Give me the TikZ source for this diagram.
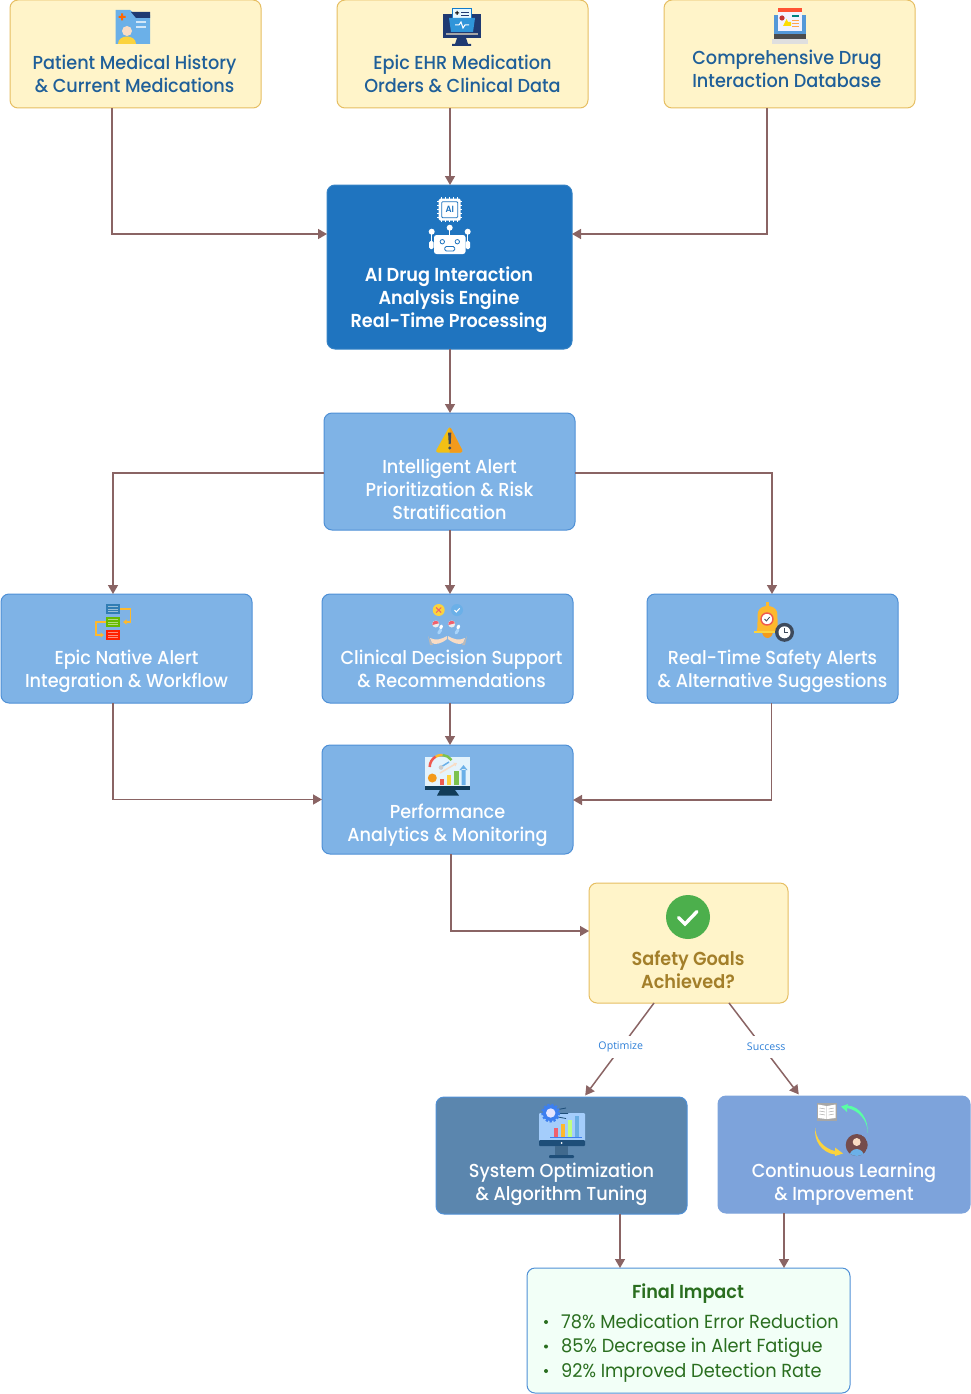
\documentclass[tikz,border=0pt]{standalone}
\usepackage{fontspec}
\setmainfont{Poppins}[FakeStretch=0.94]
\newfontfamily\medf{Poppins Medium}[FakeStretch=0.94]
\newfontfamily\semif{Poppins SemiBold}[FakeStretch=0.94]
\newfontfamily\labf{Open Sans}
\usetikzlibrary{arrows.meta}
\definecolor{creamfill}{HTML}{FFF4C9}
\definecolor{creamline}{HTML}{E6BE62}
\definecolor{navytext}{HTML}{1F5F99}
\definecolor{aifill}{HTML}{1F74BF}
\definecolor{lightfill}{HTML}{7FB3E6}
\definecolor{lightline}{HTML}{4F90D6}
\definecolor{optfill}{HTML}{5B86AE}
\definecolor{contfill}{HTML}{7DA3DB}
\definecolor{finalfill}{HTML}{F2FFF7}
\definecolor{finaltext}{HTML}{2A6E1F}
\definecolor{goaltext}{HTML}{A37F2A}
\definecolor{connc}{HTML}{8A6464}
\definecolor{labc}{HTML}{2F80D8}
\definecolor{dknavy}{HTML}{1F3A72}
\definecolor{fold}{HTML}{6BB0E8}
\definecolor{bellc}{HTML}{FDB92E}
\definecolor{warny}{HTML}{F2C014}
\definecolor{warno}{HTML}{F39A1C}
\definecolor{warnd}{HTML}{3D4A5C}
\definecolor{skinc}{HTML}{F9DCC4}
\definecolor{pillb}{HTML}{A9D4FA}
\definecolor{pillr}{HTML}{F0606E}
\definecolor{yel}{HTML}{FBD33E}
\definecolor{gaugeg}{HTML}{7CC24E}
\definecolor{gauger}{HTML}{EF5A50}
\definecolor{scrn}{HTML}{E4F3FC}
\definecolor{dkst}{HTML}{123C58}
\definecolor{gearb}{HTML}{3D7FF0}
\definecolor{monb}{HTML}{A4CDFB}
\definecolor{mond}{HTML}{1E4E79}
\tikzset{
 box/.style={draw,rounded corners=8pt,line width=1pt,inner sep=0pt,outer sep=0pt},
 inbox/.style={box,fill=creamfill,draw=creamline,minimum width=251pt,minimum height=108pt},
 midbox/.style={box,fill=lightfill,draw=lightline,minimum width=251pt,minimum height=109pt},
 txt/.style={inner sep=0pt,align=center,font=\medf\fontsize{18.8}{23}\selectfont},
 semitxt/.style={txt,font=\semif\fontsize{18.8}{23}\selectfont},
 conn/.style={draw=connc,line width=1.5pt,-{Triangle[length=9pt,width=10pt]}},
 lab/.style={fill=white,inner xsep=1pt,inner ysep=0pt,minimum height=22pt,text=labc,font=\labf\fontsize{10.6}{12}\selectfont},
}
\begin{document}
\begin{tikzpicture}[x=1pt,y=-1pt]
\useasboundingbox (0,0) rectangle (970,1394);
% boxes
\node[inbox] (p1) at (135.5,54) {};
\node[inbox] (p2) at (462.5,54) {};
\node[inbox] (p3) at (789.5,54) {};
\node[box,fill=aifill,draw=aifill!90!white,minimum width=245pt,minimum height=164pt] (ai) at (449.5,267) {};
\node[midbox,minimum height=117pt] (alert) at (449.5,471.5) {};
\node[midbox] (epic) at (126.5,648.5) {};
\node[midbox] (cds) at (447.5,648.5) {};
\node[midbox] (rt) at (772.5,648.5) {};
\node[midbox] (perf) at (447.5,799.5) {};
\node[box,fill=creamfill,draw=creamline,minimum width=199pt,minimum height=120pt] (goal) at (688.5,943) {};
\node[box,fill=optfill,draw=lightline,minimum width=251pt,minimum height=117pt] (opt) at (561.5,1155.5) {};
\node[box,fill=contfill,draw=contfill,minimum width=252pt,minimum height=117pt] (cont) at (844,1154.5) {};
\node[box,fill=finalfill,draw=lightline,minimum width=323pt,minimum height=125pt] (final) at (688.5,1330.5) {};
% connectors
\draw[conn] ([xshift=-23.5pt]p1.south) |- ([yshift=33pt]ai.west);
\draw[conn] ([xshift=-12.5pt]p2.south) -- ([xshift=.5pt]ai.north);
\draw[conn] ([xshift=-22.5pt]p3.south) |- ([yshift=33pt]ai.east);
\draw[conn] ([xshift=.5pt]ai.south) -- ([xshift=.5pt]alert.north);
\draw[conn] ([yshift=-1.5pt]alert.west) -| ([xshift=-13.5pt]epic.north);
\draw[conn] ([yshift=-1.5pt]alert.east) -| ([xshift=-.5pt]rt.north);
\draw[conn] ([xshift=.5pt]alert.south) -- ([xshift=2.5pt]cds.north);
\draw[conn] ([xshift=-13.5pt]epic.south) |- (perf.west);
\draw[conn] ([xshift=2.5pt]cds.south) -- ([xshift=2.5pt]perf.north);
\draw[conn] ([xshift=-1pt]rt.south) |- ([yshift=-.5pt]perf.east);
\draw[conn] ([xshift=3.5pt]perf.south) |- ([yshift=12pt]goal.west);
\draw[conn,shorten >=2pt] ([xshift=-34.5pt]goal.south) -- node[lab,pos=.46,yshift=-1pt,xshift=-1pt] (optlab) {Optimize} ([xshift=22.5pt]opt.north);
\draw[conn,shorten >=2pt] ([xshift=40.5pt]goal.south) -- node[lab,pos=.46,xshift=4.5pt,yshift=-1pt] (suclab) {Success} ([xshift=-44pt]cont.north);
\draw[conn] ([xshift=58.5pt]opt.south) -- ([xshift=-68.5pt]final.north);
\draw[conn] ([xshift=-60pt]cont.south) -- ([xshift=95.5pt]final.north);
% texts
\node[txt,text=navytext] (t1) at (134.5,73.5) {Patient Medical History\\\& Current Medications};
\node[txt,text=navytext] (t2) at (462.5,74) {Epic EHR Medication\\Orders \& Clinical Data};
\node[txt,text=navytext,align=left] (t3) at (787,69) {Comprehensive Drug\\Interaction Database};
\node[semitxt,text=white] (t4) at (449,299.5) {AI Drug Interaction\\Analysis Engine\\Real-Time Processing};
\node[txt,text=white] (t5) at (449.5,489) {Intelligent Alert\\Prioritization \& Risk\\Stratification};
\node[txt,text=white] (t6) at (126.5,671) {Epic Native Alert\\Integration \& Workflow};
\node[txt,text=white] (t7) at (451.5,669) {Clinical Decision Support\\\& Recommendations};
\node[txt,text=white] (t8) at (772.5,671) {Real-Time Safety Alerts\\\& Alternative Suggestions};
\node[txt,text=white] (t9) at (447.5,825) {Performance\\Analytics \& Monitoring};
\node[semitxt,text=goaltext] (t10) at (688,969.5) {Safety Goals\\Achieved?};
\node[txt,text=white] (t11) at (561.5,1184.5) {System Optimization\\\& Algorithm Tuning};
\node[txt,text=white] (t12) at (844,1184.5) {Continuous Learning\\\& Improvement};
\node[semitxt,text=finaltext] (t13) at (688,1293.5) {Final Impact};
\node[txt,text=finaltext,align=left,anchor=west,font=\fontsize{18.9}{24.5}\selectfont] (t14) at (561,1348) {78\% Medication Error Reduction\\85\% Decrease in Alert Fatigue\\92\% Improved Detection Rate};
\foreach \yy in {1322,1346.5,1371} \fill[finaltext] (546,\yy) circle (2);
% icon: patient folder
\fill[fold] (115.5,10) -- (130,10) -- (136,15) -- (150,15) -- (150,44) -- (115.5,44) -- cycle;
\fill[dknavy] (131,12) -- (150,12) -- (150,18) -- (136,18) -- cycle;
\fill[orange!80!red] (122,17) +(-3.5,-1) rectangle +(3.5,1) +(-1,-3.5) rectangle +(1,3.5);
\fill[yel] (118,44) .. controls (118,34) and (136,34) .. (136,44) -- cycle;
\fill[skinc] (127,31) circle (5);
\draw[white!70!fold,line width=1.5pt] (136,22) -- (146,22) (136,27) -- (146,27);
% icon: EHR monitor
\fill[dknavy] (443,14) rectangle (481,38);
\fill[dknavy] (457,38) -- (466,38) -- (468,44) -- (455,44) -- cycle (452,44) rectangle (471,46);
\fill[gray!70!white] (446,33) rectangle (478,35);
\fill[white!90!cyan,draw=cyan!60!blue,line width=.5pt] (452,8) rectangle (471,22);
\fill[black] (457,13) +(-2,-.5) rectangle +(2,.5) +(-.5,-2) rectangle +(.5,2);
\draw[dknavy,line width=.6pt] (461,12) -- (469,12) (461,15) -- (469,15);
\fill[cyan!70!blue!85!white] (449,18) -- (475,18) -- (473,32) -- (451,32) -- cycle;
\draw[white,line width=1pt] (455,25) -- (459,25) -- (461,22) -- (463,28) -- (465,25) -- (469,25);
% icon: drug database laptop
\fill[cyan!60!blue!70!white] (774,15) rectangle (806,35);
\fill[gray!60!black] (774,34) rectangle (806,39);
\fill[gray!25!white] (772,39) rectangle (808,44);
\fill[blue!5!white] (778,12) rectangle (802,31);
\fill[red!70!orange!80!white] (778,8) rectangle (802,12);
\fill[red!70!black!80!white] (782,18) circle (2.6);
\fill[yellow!80!orange] (783,26) -- (791,26) -- (791,22) -- (788,22) -- (786.5,19) -- (785,22) -- cycle;
\fill[teal] (792,15.5) rectangle (799,17.5);
\draw[orange!70!white,line width=.8pt] (792,20) -- (799,20) (792,23) -- (799,23) (792,26) -- (799,26);
% icon: AI chip + robot
\draw[white,line width=.7pt] \foreach \dd in {-8,-4,0,4,8} {(449.7+\dd,197) -- (449.7+\dd,222.4) (437,209.7+\dd) -- (462.4,209.7+\dd)};
\fill[white,rounded corners=1.5pt] (438.7,198.7) rectangle (460.7,220.7);
\draw[aifill,line width=.8pt,rounded corners=1pt] (441.7,201.7) rectangle (457.7,217.7);
\node[inner sep=0pt,text=aifill,font=\semif\fontsize{9}{9}\selectfont] (chipai) at (449.7,209.7) {AI};
\draw[white,line width=1pt] (431.7,232) -- (431.7,242) (449.7,228) -- (449.7,235) (467.7,232) -- (467.7,242);
\fill[white] (431.7,231.7) circle (3) (449.7,227.7) circle (3) (467.7,231.7) circle (3);
\fill[white,rounded corners=1.5pt] (429,241) rectangle (433.5,249) (465.5,241) rectangle (470,249);
\fill[white,rounded corners=2.5pt] (434,235) rectangle (465.5,254);
\draw[aifill,line width=.8pt] (442.3,241.7) circle (2.2) (457.3,241.7) circle (2.2);
\draw[aifill,line width=.8pt,rounded corners=1.5pt] (444.7,246.5) rectangle (454.7,251);
% icon: warning
\fill[warny,rounded corners=3pt] (449.7,426) -- (435,452.5) -- (463.5,452.5) -- cycle;
\begin{scope}
\clip (449.7,420) rectangle (470,455);
\fill[warno,rounded corners=3pt] (449.7,426) -- (435,452.5) -- (463.5,452.5) -- cycle;
\end{scope}
\fill[warnd] (448.1,432.5) -- (451.3,432.5) -- (450.7,444) -- (448.7,444) -- cycle (449.7,448) circle (1.7);
% icon: epic workflow
\fill[cyan!70!blue!80!black] (106,604) rectangle (120,614);
\fill[green!55!black!60!yellow] (106,617) rectangle (120,627);
\fill[red!75!orange] (106,630) rectangle (120,640);
\draw[white,opacity=.5,line width=.6pt] \foreach \yy in {606.5,609,611.5,619.5,622,624.5,632.5,635,637.5} {(108,\yy) -- (118,\yy)};
\draw[bellc,line width=1.6pt,-{Triangle[length=3.5pt,width=5pt]}] (120,609) -- (130.5,609) -- (130.5,622) -- (123,622);
\draw[bellc,line width=1.6pt,-{Triangle[length=3.5pt,width=5pt]}] (106,622) -- (96,622) -- (96,635) -- (104,635);
% icon: decision support
\fill[yel] (438.7,610) circle (6);
\draw[pillr,line width=1pt] (436.2,607.5) -- (441.2,612.5) (436.2,612.5) -- (441.2,607.5);
\fill[fold] (457,610) circle (6);
\draw[white,line width=1pt] (454.5,610) -- (456.3,612) -- (459.7,608.3);
\foreach \xx in {435.7,451.7} {\fill[white!85!gray] (\xx,624) circle (3.5); \fill[pillr] (\xx-3.3,625) arc (165:345:3.4) -- cycle;}
\foreach \xx in {441.5,458.7} {\draw[white,line width=3pt,line cap=round] (\xx,626) -- (\xx-.8,628);}
\foreach \xx in {441.7,459} {\draw[pillb,line width=3pt,line cap=round] (\xx-1,630) -- (\xx-3,633);}
\fill[gray!55!white] (428,636) -- (433,645) -- (430,645) -- cycle (467,636) -- (462,645) -- (465,645) -- cycle;
\fill[skinc] (430,638) .. controls (436,641) and (442,639) .. (447,636) -- (447,639) .. controls (441,644) and (435,645) .. (432,643) -- cycle;
\fill[skinc] (465,638) .. controls (459,641) and (453,639) .. (448,636) -- (448,639) .. controls (454,644) and (460,645) .. (463,643) -- cycle;
% icon: bell + clock
\fill[bellc] (766,602) rectangle (769,607);
\fill[warno] (762,631) -- (773,631) arc (0:180:5.5 and 7) -- cycle;
\fill[bellc] (757,631) .. controls (758,622) and (757,616) .. (758,612) .. controls (760,604) and (775,604) .. (777,612) .. controls (778,616) and (777,622) .. (778,631) -- cycle;
\fill[yel] (754,631) rectangle (778,633);
\fill[white,draw=gauger,line width=1.4pt] (767,619) circle (6);
\draw[warnd,line width=.8pt] (764.5,619) -- (766.4,621) -- (769.7,617);
\fill[warnd] (784.5,632.3) circle (9.5);
\fill[white] (784.5,632.3) circle (6);
\draw[warnd,line width=1pt] (784.5,628) -- (784.5,632.3) -- (788,632.3);
% icon: performance
\fill[scrn] (425,757) rectangle (470,788);
\fill[dkst] (425,786) rectangle (470,790);
\fill[dkst] (440,790) -- (455,790) -- (459,795.5) -- (437,795.5) -- cycle;
\draw[gauger,line width=2.5pt] (429.7,767) arc (180:240:12);
\draw[bellc,line width=2.5pt] (435.7,756.6) arc (240:275:12);
\draw[gaugeg,line width=2.5pt] (442.7,755) arc (275:325:12);
\draw[fold,line width=1.5pt] (441,767) -- (449,762);
\fill[gray!40!white] (441,767.5) circle (2.3);
\draw[skinc,line width=1.5pt,-{Triangle[length=3pt,width=4pt]}] (440,773) -- (457,763);
\fill[warno] (432.3,778) circle (4.5);
\fill[gauger] (439.5,779) rectangle (444,785);
\fill[yel] (446.5,775) rectangle (451,785);
\fill[gaugeg] (454,771) rectangle (458.5,785);
\fill[fold] (461.5,769) rectangle (465.5,785) (459.5,770) -- (463.5,765) -- (467.5,770) -- cycle;
% icon: goal check
\fill[green!55!black!70!white] (688,917) circle (22);
\draw[white,line width=3.4pt,line cap=round] (678.5,917.5) -- (685,924) -- (697,911.5);
% icon: optimisation
\fill[monb,rounded corners=1pt] (539,1113) rectangle (585,1141);
\fill[mond,rounded corners=1pt] (539,1140) rectangle (585,1146);
\fill[white] (561.7,1143) circle (1);
\fill[mond!85!white] (555,1146) rectangle (568,1155);
\fill[mond,rounded corners=1pt] (549,1155) rectangle (574,1158);
\fill[pillr] (553.5,1128) rectangle (558,1137);
\fill[bellc] (560.5,1124) rectangle (565,1137);
\fill[green!50!yellow!50!white] (567.5,1120) rectangle (572,1137);
\fill[cyan!70!blue!60!white] (574.5,1116) rectangle (579,1137);
\draw[gearb,line width=.8pt] (550,1137) -- (582,1137);
\draw[mond,line width=.8pt] (558,1109.5) -- (566,1108) (560,1113.5) -- (568,1113.5) (558,1117) -- (566,1118.5);
\draw[gearb,line width=2.2pt,dash pattern=on 2.2pt off 1.8pt] (550.7,1113) circle (8.4);
\fill[gearb] (550.7,1113) circle (8);
\fill[white!90!blue] (550.7,1113) circle (4.7);
% icon: continuous learning
\fill[gray!70!white] (816.5,1103) rectangle (837,1120.5);
\fill[white] (818,1104.5) -- (826.5,1106) -- (826.5,1119) -- (818,1118) -- cycle (835.5,1104.5) -- (827.2,1106) -- (827.2,1119) -- (835.5,1118) -- cycle;
\draw[gray!70!white,line width=.5pt] (819.5,1108) -- (825,1109) (819.5,1111) -- (825,1112) (819.5,1114) -- (825,1115) (833.7,1108) -- (828.7,1109) (833.7,1111) -- (828.7,1112) (833.7,1114) -- (828.7,1115);
\fill[green!55!cyan!65!white] (867.5,1133) .. controls (868,1120) and (858,1110) .. (847,1108) -- (847,1112) -- (841,1106.5) -- (848,1104) -- (847.5,1105.5) .. controls (860,1106) and (869,1120) .. (867.5,1133) -- cycle;
\fill[yel] (815.5,1128) .. controls (815,1138) and (824,1149) .. (835,1151) -- (835,1147.5) -- (843,1153.5) -- (835,1156) -- (835,1154.5) .. controls (822,1153) and (813,1140) .. (815.5,1128) -- cycle;
\begin{scope}
\clip (856.7,1145) circle (11);
\fill[black!60!red!40!gray] (856.7,1145) circle (11);
\fill[skinc] (856.7,1142) circle (4);
\fill[fold] (856.7,1157) ellipse (7.5 and 8);
\end{scope}
\end{tikzpicture}
\end{document}
